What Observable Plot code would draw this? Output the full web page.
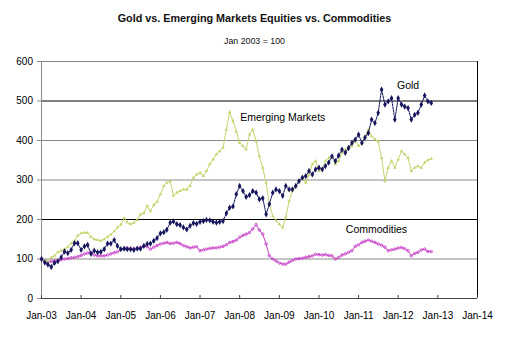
<!DOCTYPE html>
<html>
<head>
<meta charset="utf-8">
<script src="https://cdn.jsdelivr.net/npm/d3@7"></script>
<script src="https://cdn.jsdelivr.net/npm/@observablehq/plot@0.6"></script>
<style>
  html, body { margin: 0; padding: 0; background: #fff; }
  #wrap { position: relative; width: 509px; height: 348px; overflow: hidden; font-family: Arial, "Liberation Sans", sans-serif; }
  #title { position: absolute; left: 0; top: 13px; width: 509px; text-align: center; font-weight: bold; font-size: 10.8px; line-height: 10.8px; color: #111; }
  #subtitle { position: absolute; left: 0; top: 37px; width: 509px; text-align: center; font-size: 8.8px; line-height: 8.8px; color: #111; }
  #chart { position: absolute; left: 0; top: 50px; }
</style>
</head>
<body>
<div id="wrap">
  <div id="title">Gold vs. Emerging Markets Equities vs. Commodities</div>
  <div id="subtitle">Jan 2003 = 100</div>
  <div id="chart"></div>
</div>
<script>
// Monthly values, Jan 2003 .. Nov 2012 (Jan 2003 = 100)
const gold = [
  100, 91, 86, 80, 90, 94, 104, 119, 115, 123, 140, 140,
  123, 132, 136, 113, 121, 117, 118, 125, 139, 139, 148, 133,
  125, 126, 125, 125, 123, 126, 126, 133, 138, 139, 146, 153,
  165, 168, 174, 192, 195, 188, 186, 180, 175, 184, 191, 189,
  194, 196, 199, 198, 194, 192, 194, 196, 216, 230, 233, 264,
  285, 272, 257, 262, 272, 268, 251, 254, 213, 239, 268, 276,
  272, 260, 285, 276, 276, 285, 297, 306, 310, 323, 314, 327,
  331, 327, 335, 344, 360, 348, 362, 377, 369, 381, 394, 402,
  415, 394, 407, 419, 453, 444, 470, 529, 491, 499, 507, 453,
  507, 491, 486, 482, 453, 465, 470, 491, 514, 499, 495
];
const emergingMarkets = [
  100, 96, 95, 104, 108, 117, 121, 125, 131, 140, 146, 159,
  165, 167, 166, 156, 150, 148, 146, 150, 156, 162, 170, 180,
  187, 204, 193, 188, 192, 199, 213, 216, 234, 221, 237, 245,
  264, 285, 293, 297, 260, 268, 272, 276, 276, 285, 306, 314,
  318, 310, 323, 340, 352, 365, 373, 381, 428, 472, 449, 423,
  394, 386, 377, 415, 428, 398, 360, 331, 293, 239, 209, 197,
  188, 180, 205, 247, 272, 281, 297, 306, 293, 314, 340, 348,
  323, 327, 348, 356, 360, 340, 348, 369, 377, 381, 386, 398,
  386, 394, 411, 428, 411, 403, 398, 356, 297, 331, 348, 331,
  352, 373, 365, 356, 323, 331, 335, 331, 344, 350, 354
];
const commodities = [
  100, 95, 93, 94, 95, 96, 98, 100, 101, 103, 104, 106,
  109, 113, 115, 117, 110, 108, 108, 108, 110, 113, 116, 118,
  124, 126, 128, 125, 126, 127, 129, 133, 131, 125, 130, 134,
  138, 140, 142, 139, 140, 142, 139, 134, 131, 128, 130, 131,
  121, 123, 125, 127, 128, 128, 130, 132, 136, 142, 144, 148,
  155, 160, 163, 167, 176, 187, 173, 163, 138, 108, 100, 95,
  90, 87, 87, 92, 96, 100, 101, 102, 104, 106, 108, 112,
  111, 110, 111, 109, 108, 100, 104, 110, 113, 117, 121, 132,
  136, 142, 145, 148, 145, 142, 138, 135, 130, 121, 123, 125,
  128, 129, 126, 121, 108, 114, 117, 123, 125, 119, 119
];
const yTicks = [0, 100, 200, 300, 400, 500, 600];
const grayGrid = [100, 300, 400, 600];
const blackGrid = [200, 500];
const seriesLabels = [
  {date: new Date(Date.UTC(2012, 3, 1)), value: 539, text: "Gold"},
  {date: new Date(Date.UTC(2009, 1, 1)), value: 459, text: "Emerging Markets"},
  {date: new Date(Date.UTC(2011, 5, 15)), value: 174, text: "Commodities"}
];

const start = new Date(Date.UTC(2003, 0, 1));
const end = new Date(Date.UTC(2014, 0, 1));
const months = d3.utcMonth.range(start, new Date(Date.UTC(2012, 11, 1)));
const years = d3.utcYear.range(start, new Date(Date.UTC(2014, 0, 2)));

const rows = (vals) => vals.map((v, i) => ({date: months[i], value: v}));
const goldRows = rows(gold), emRows = rows(emergingMarkets), comRows = rows(commodities);

const cGold = "#16165e", cEM = "#c6d46e", cCom = "#c63fc6";

const chart = Plot.plot({
  width: 509,
  height: 298,
  marginLeft: 41,
  marginRight: 32,
  marginTop: 11,
  marginBottom: 50,
  style: {fontFamily: "Arial, 'Liberation Sans', sans-serif", fontSize: "10px", color: "#000", background: "#fff", overflow: "visible"},
  x: {type: "utc", domain: [start, end]},
  y: {domain: [0, 600]},
  marks: [
    Plot.ruleY(grayGrid, {stroke: "#8a8a8a", strokeWidth: 1}),
    Plot.ruleY(blackGrid, {stroke: "#000", strokeWidth: 1}),
    Plot.ruleX([start], {stroke: "#8a8a8a"}),
    Plot.ruleX([end], {stroke: "#000"}),
    Plot.ruleY([0], {stroke: "#444"}),
    Plot.axisY({ticks: yTicks, tickSize: 4, tickPadding: 4.5, stroke: "#8a8a8a", fill: "#000", label: null, tickFormat: d3.format("d")}),
    Plot.axisX({ticks: years, tickSize: 3, dy: -3, tickFormat: () => "", stroke: "#444", label: null}),
    Plot.axisX({ticks: years, tickSize: 0, tickPadding: 13, fill: "#000", label: null, tickFormat: d3.utcFormat("%b-%y")}),
    Plot.line(comRows, {x: "date", y: "value", stroke: cCom, strokeWidth: 1}),
    Plot.dot(comRows, {x: "date", y: "value", stroke: cCom, fill: "none", r: 1.3, strokeWidth: 0.8}),
    Plot.line(emRows, {x: "date", y: "value", stroke: cEM, strokeWidth: 1}),
    Plot.dot(emRows, {x: "date", y: "value", symbol: "triangle", fill: cEM, r: 1.3}),
    Plot.line(goldRows, {x: "date", y: "value", stroke: cGold, strokeWidth: 1, strokeDasharray: "2,1"}),
    Plot.dot(goldRows, {x: "date", y: "value", symbol: "diamond", fill: cGold, r: 1.9}),
    Plot.text(seriesLabels, {x: "date", y: "value", text: "text", fontSize: 10.5, fill: "#000"})
  ]
});
document.getElementById("chart").appendChild(chart);
</script>
</body>
</html>
